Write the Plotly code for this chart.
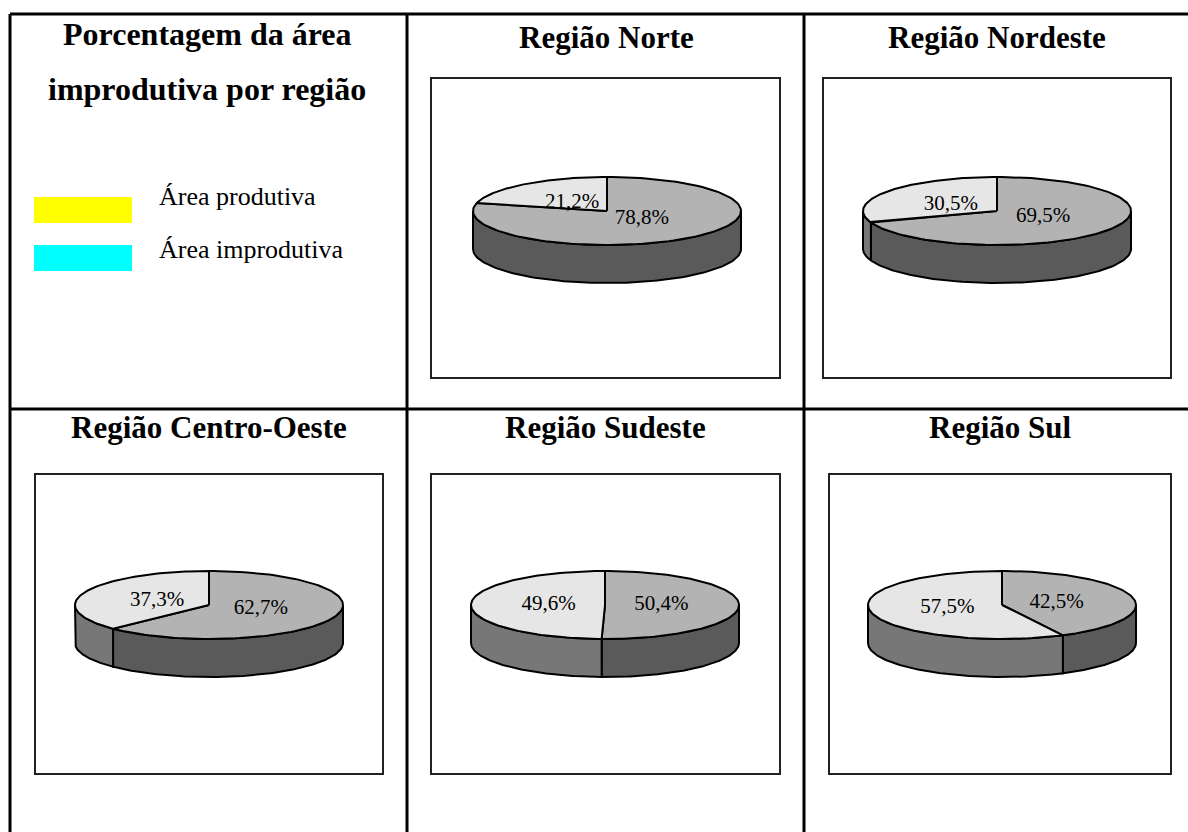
import numpy as np
import plotly.graph_objects as go

# ---------------- data ----------------
regions = ["Região Norte", "Região Nordeste", "Região Centro-Oeste", "Região Sudeste", "Região Sul"]
produtiva = [78.8, 69.5, 62.7, 50.4, 42.5]
improdutiva = [21.2, 30.5, 37.3, 49.6, 57.5]
series_names = ["Área produtiva", "Área improdutiva"]
title_lines = ["Porcentagem da área", "improdutiva por região"]

# ---------------- layout / style constants ----------------
W, H = 1188, 832
RX, RY, DEPTH = 134, 34, 38
boxes = [(432, 79, 779, 377), (824, 79, 1170, 377), (36, 475, 382, 773),
         (432, 475, 779, 773), (830, 475, 1170, 773)]
centers = [(607, 211), (997, 211), (209, 605), (605, 605), (1002, 605)]
top_colors = ["#b3b3b3", "#e6e6e6"]
side_colors = ["#5a5a5a", "#777777"]
legend_colors = ["#ffff00", "#00ffff"]
FONT = "Liberation Serif"


def arc(a, b, n=120, dy=0.0):
    t = np.radians(np.linspace(a, b, n))
    return RX * np.sin(t), RY * np.cos(t) - dy


def fmt(v):
    return f"{v:.1f}%".replace(".", ",")


fig = go.Figure()

for i, name in enumerate(regions):
    ax = "" if i == 0 else str(i + 1)
    xa, ya = "x" + ax, "y" + ax
    vals = [produtiva[i], improdutiva[i]]
    total = sum(vals)
    bounds = []
    start = 0.0
    for v in vals:
        end = start + 360.0 * v / total
        bounds.append((start, end))
        start = end

    # side walls (front half only: 90..270 degrees clockwise from top)
    for k, (a, b) in enumerate(bounds):
        s, e = max(a, 90.0), min(b, 270.0)
        if e > s:
            tx, ty = arc(s, e)
            bx, by = arc(e, s, dy=DEPTH)
            px = np.concatenate([tx, bx, tx[:1]])
            py = np.concatenate([ty, by, ty[:1]])
            fig.add_trace(go.Scatter(x=px, y=py, mode="lines", fill="toself",
                                     fillcolor=side_colors[k],
                                     line=dict(color="black", width=2),
                                     hoverinfo="skip", showlegend=False,
                                     xaxis=xa, yaxis=ya))
    # top faces
    for k, (a, b) in enumerate(bounds):
        tx, ty = arc(a, b)
        px = np.concatenate([[0], tx, [0]])
        py = np.concatenate([[0], ty, [0]])
        fig.add_trace(go.Scatter(x=px, y=py, mode="lines", fill="toself",
                                 fillcolor=top_colors[k],
                                 line=dict(color="black", width=2),
                                 hoverinfo="skip", showlegend=False,
                                 name=series_names[k],
                                 xaxis=xa, yaxis=ya))
    # labels
    lx, ly, lt = [], [], []
    for k, (a, b) in enumerate(bounds):
        m = np.radians((a + b) / 2)
        lx.append(0.42 * RX * np.sin(m))
        ly.append(0.3 * RY * np.cos(m))
        lt.append(fmt(vals[k]))
    fig.add_trace(go.Scatter(x=lx, y=ly, mode="text", text=lt,
                             textposition="middle center",
                             textfont=dict(family=FONT, size=21, color="black"),
                             hoverinfo="skip", showlegend=False,
                             xaxis=xa, yaxis=ya))

    # axes for this box
    l, t, r, btm = boxes[i]
    cx, cy = centers[i]
    fig.layout["xaxis" + ax] = dict(domain=[l / W, r / W], range=[l - cx, r - cx],
                                    showgrid=False, zeroline=False, showticklabels=False,
                                    ticks="", showline=True, mirror=True,
                                    linecolor="#222222", linewidth=2, fixedrange=True,
                                    anchor=ya)
    fig.layout["yaxis" + ax] = dict(domain=[1 - btm / H, 1 - t / H], range=[cy - btm, cy - t],
                                    showgrid=False, zeroline=False, showticklabels=False,
                                    ticks="", showline=True, mirror=True,
                                    linecolor="#222222", linewidth=2, fixedrange=True,
                                    anchor=xa)

# ---------------- table grid ----------------
def hline(y, x0, x1):
    return dict(type="line", xref="paper", yref="paper", x0=x0 / W, x1=x1 / W,
                y0=1 - y / H, y1=1 - y / H, line=dict(color="black", width=3))


def vline(x, y0, y1):
    return dict(type="line", xref="paper", yref="paper", x0=x / W, x1=x / W,
                y0=1 - y0 / H, y1=1 - y1 / H, line=dict(color="black", width=3))


shapes = [hline(14, 10, 1188), hline(409, 10, 1188),
          vline(10, 14, 832), vline(407, 14, 832), vline(804, 14, 832)]

# legend swatches
for k, (y0, y1) in enumerate([(197, 223), (245, 271)]):
    shapes.append(dict(type="rect", xref="paper", yref="paper",
                       x0=34 / W, x1=132 / W, y0=1 - y1 / H, y1=1 - y0 / H,
                       fillcolor=legend_colors[k], line=dict(width=0)))

annotations = []
# cell titles
title_pos = [(606, 37), (997, 37), (209, 428), (605, 428), (1000, 428)]
for i, name in enumerate(regions):
    x, y = title_pos[i]
    annotations.append(dict(text=name, x=x / W, y=1 - y / H, xref="paper", yref="paper",
                            xanchor="center", yanchor="middle", showarrow=False,
                            font=dict(family=FONT, size=31, color="black", weight="bold")))
for line, y in zip(title_lines, [34, 89]):
    annotations.append(dict(text=line, x=207 / W, y=1 - y / H, xref="paper", yref="paper",
                            xanchor="center", yanchor="middle", showarrow=False,
                            font=dict(family=FONT, size=32, color="black", weight="bold")))
for name, y in zip(series_names, [196, 250]):
    annotations.append(dict(text=name, x=157 / W, y=1 - y / H, xref="paper", yref="paper",
                            xanchor="left", yanchor="middle", showarrow=False,
                            font=dict(family=FONT, size=26, color="black")))

fig.update_layout(width=W, height=H, margin=dict(l=0, r=0, t=0, b=0),
                  paper_bgcolor="white", plot_bgcolor="white",
                  shapes=shapes, annotations=annotations, showlegend=False)

fig.write_html("out.html", config={"displayModeBar": False})
